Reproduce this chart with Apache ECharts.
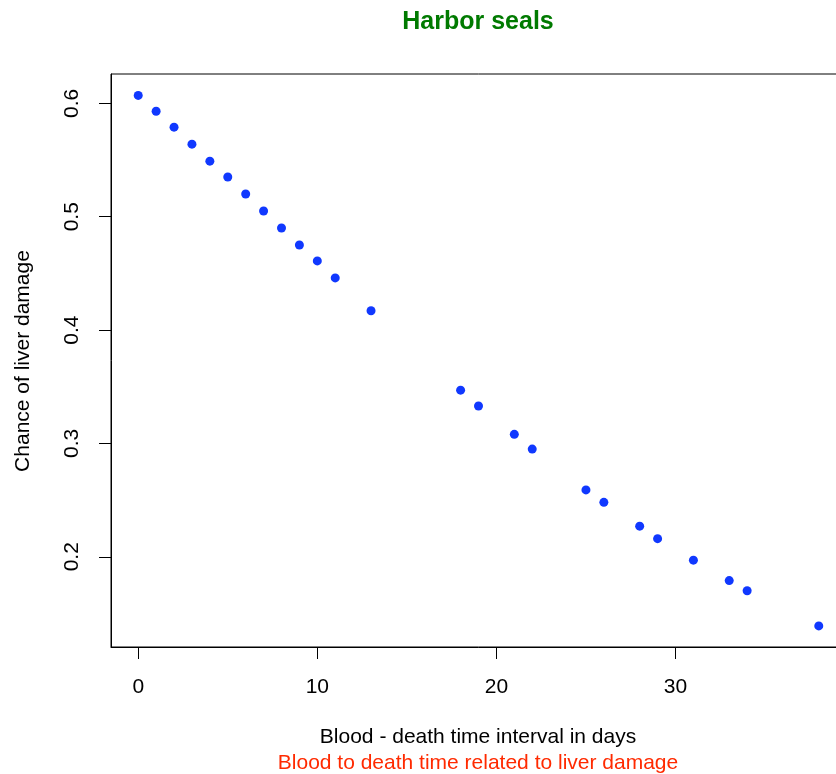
<!DOCTYPE html>
<html>
<head>
<meta charset="utf-8">
<script src="https://cdn.jsdelivr.net/npm/echarts@6/dist/echarts.min.js"></script>
<style>
html,body{margin:0;padding:0;background:#fff;overflow:hidden;width:836px;height:774px;}
#chart{width:848px;height:774px;}
</style>
</head>
<body>
<div id="chart"></div>
<script>
var days = [0,1,2,3,4,5,6,7,8,9,10,11,13,18,19,21,22,25,26,28,29,31,33,34,38];
var chance = [0.607,0.593,0.579,0.564,0.549,0.535,0.520,0.505,0.490,0.475,0.461,0.446,0.417,0.347,0.333,0.308,0.295,0.259,0.248,0.227,0.216,0.197,0.179,0.170,0.139];
var xTicks = [0,10,20,30];
var yTicks = [0.2,0.3,0.4,0.5,0.6];
var titleText = 'Harbor seals';
var xLabel = 'Blood - death time interval in days';
var yLabel = 'Chance of liver damage';
var subText = 'Blood to death time related to liver damage';

var font = "'Liberation Sans', Arial, Helvetica, sans-serif";
var chart = echarts.init(document.getElementById('chart'), null, {renderer:'canvas'});
var pts = days.map(function(d,i){return [d, chance[i]];});
chart.setOption({
  animation:false,
  backgroundColor:'#fff',
  grid:{left:111, width:735, top:74, bottom:127, show:true, borderColor:'#000', borderWidth:1, containLabel:false},
  graphic:[
    {type:'text', style:{text:titleText, font:"bold 25px "+font, fill:'#007A00', textAlign:'center', textVerticalAlign:'middle'}, x:478, y:22},
    {type:'text', style:{text:xLabel, font:"21px "+font, fill:'#000', textAlign:'center', textVerticalAlign:'middle'}, x:478, y:737},
    {type:'text', style:{text:subText, font:"21px "+font, fill:'#FF2A00', textAlign:'center', textVerticalAlign:'middle'}, x:478, y:763},
    {type:'text', style:{text:yLabel, font:"21px "+font, fill:'#000', textAlign:'center', textVerticalAlign:'middle'}, x:23, y:361, rotation:Math.PI/2}
  ],
  xAxis:{
    type:'value', min:-1.52, max:39.52,
    axisLine:{show:true, onZero:false, lineStyle:{color:'#000', width:1}},
    axisTick:{show:true, inside:false, length:12, lineStyle:{color:'#000'}, customValues:xTicks},
    axisLabel:{show:true, margin:30, color:'#000', fontSize:21, fontFamily:font, customValues:xTicks},
    splitLine:{show:false}
  },
  yAxis:{
    type:'value', min:0.1204, max:0.6259,
    axisLine:{show:true, onZero:false, lineStyle:{color:'#000', width:1}},
    axisTick:{show:true, inside:false, length:12, lineStyle:{color:'#000'}, customValues:yTicks},
    axisLabel:{show:true, margin:28, rotate:90, color:'#000', fontSize:21, fontFamily:font, customValues:yTicks,
      formatter:function(v){return v.toFixed(1);}},
    splitLine:{show:false}
  },
  series:[{
    type:'scatter', data:pts, symbol:'circle', symbolSize:9,
    itemStyle:{color:'#1038FF', opacity:1}
  }]
});
</script>
</body>
</html>
